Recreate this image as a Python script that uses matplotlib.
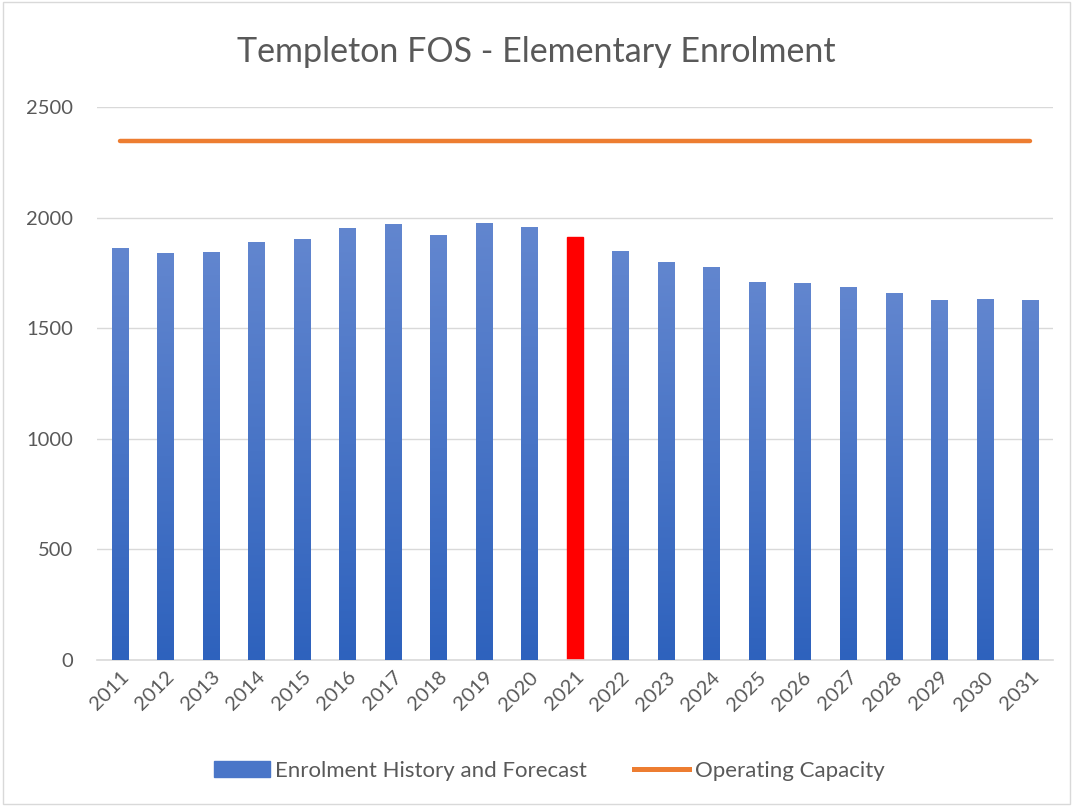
import matplotlib
matplotlib.use("Agg")
import matplotlib.pyplot as plt
import numpy as np
from matplotlib.colors import LinearSegmentedColormap
from matplotlib.patches import Rectangle

years = [str(y) for y in range(2011, 2032)]
enrolment = [1862, 1840, 1845, 1890, 1903, 1953, 1971, 1921, 1976, 1957, 1912,
             1849, 1799, 1777, 1709, 1704, 1686, 1659, 1627, 1632, 1627]
capacity = [2346] * len(years)
highlight_year = "2021"

plt.rcParams['font.family'] = ['Lato', 'DejaVu Sans']
grey = '#595959'

fig = plt.figure(figsize=(10.73, 8.06), dpi=100)
ax = fig.add_axes([0.0904, 0.1811, 0.891, 0.6861])

x = np.arange(len(years))
bars = ax.bar(x, enrolment, width=0.36, color='#4a76c8', zorder=2)

# gradient fill on each bar (light top, dark bottom)
cmap = LinearSegmentedColormap.from_list('g', ['#2e62bd', '#6286cf'])
grad = np.linspace(0, 1, 256).reshape(-1, 1)
for yr, b in zip(years, bars):
    if yr == highlight_year:
        b.set_color('#ff0000')
        continue
    x0, w, h = b.get_x(), b.get_width(), b.get_height()
    im = ax.imshow(grad, cmap=cmap, origin='lower', aspect='auto',
                   extent=[x0, x0 + w, 0, h], zorder=3)
    im.set_clip_path(b)

ax.plot(x, capacity, color='#ed7d31', linewidth=3.2, zorder=4,
        solid_capstyle='round')

ax.set_xlim(-0.5, len(years) - 0.5)
ax.set_ylim(0, 2500)
ax.set_yticks(range(0, 2501, 500))
ax.grid(axis='y', color='#d9d9d9', linewidth=1, zorder=0)
for s in ['top', 'right', 'left']:
    ax.spines[s].set_visible(False)
ax.spines['bottom'].set_color('#d9d9d9')
ax.spines['bottom'].set_linewidth(1.2)
ax.tick_params(length=0, colors=grey, labelsize=14.5)
ax.tick_params(axis='y', pad=17)
ax.tick_params(axis='x', pad=6)
ax.set_xticks(x)
ax.set_xticklabels(years, rotation=45, ha='right', rotation_mode='anchor')

fig.text(0.5, 0.935, 'Templeton FOS - Elementary Enrolment', ha='center',
         va='center', fontsize=24.5, color=grey)

handles = [Rectangle((0, 0), 1, 1, color='#4a76c8'),
           plt.Line2D([], [], color='#ed7d31', linewidth=3.6)]
fig.legend(handles, ['Enrolment History and Forecast', 'Operating Capacity'],
           loc='center', bbox_to_anchor=(0.512, 0.044), ncol=2, frameon=False,
           fontsize=16, labelcolor=grey, handlelength=2.5, handletextpad=0.25,
           columnspacing=2.1)

fig.patches.append(Rectangle((0.003, 0.003), 0.994, 0.994, transform=fig.transFigure,
                             fill=False, edgecolor='#d9d9d9', linewidth=1))

fig.savefig('out.png', dpi=100)
